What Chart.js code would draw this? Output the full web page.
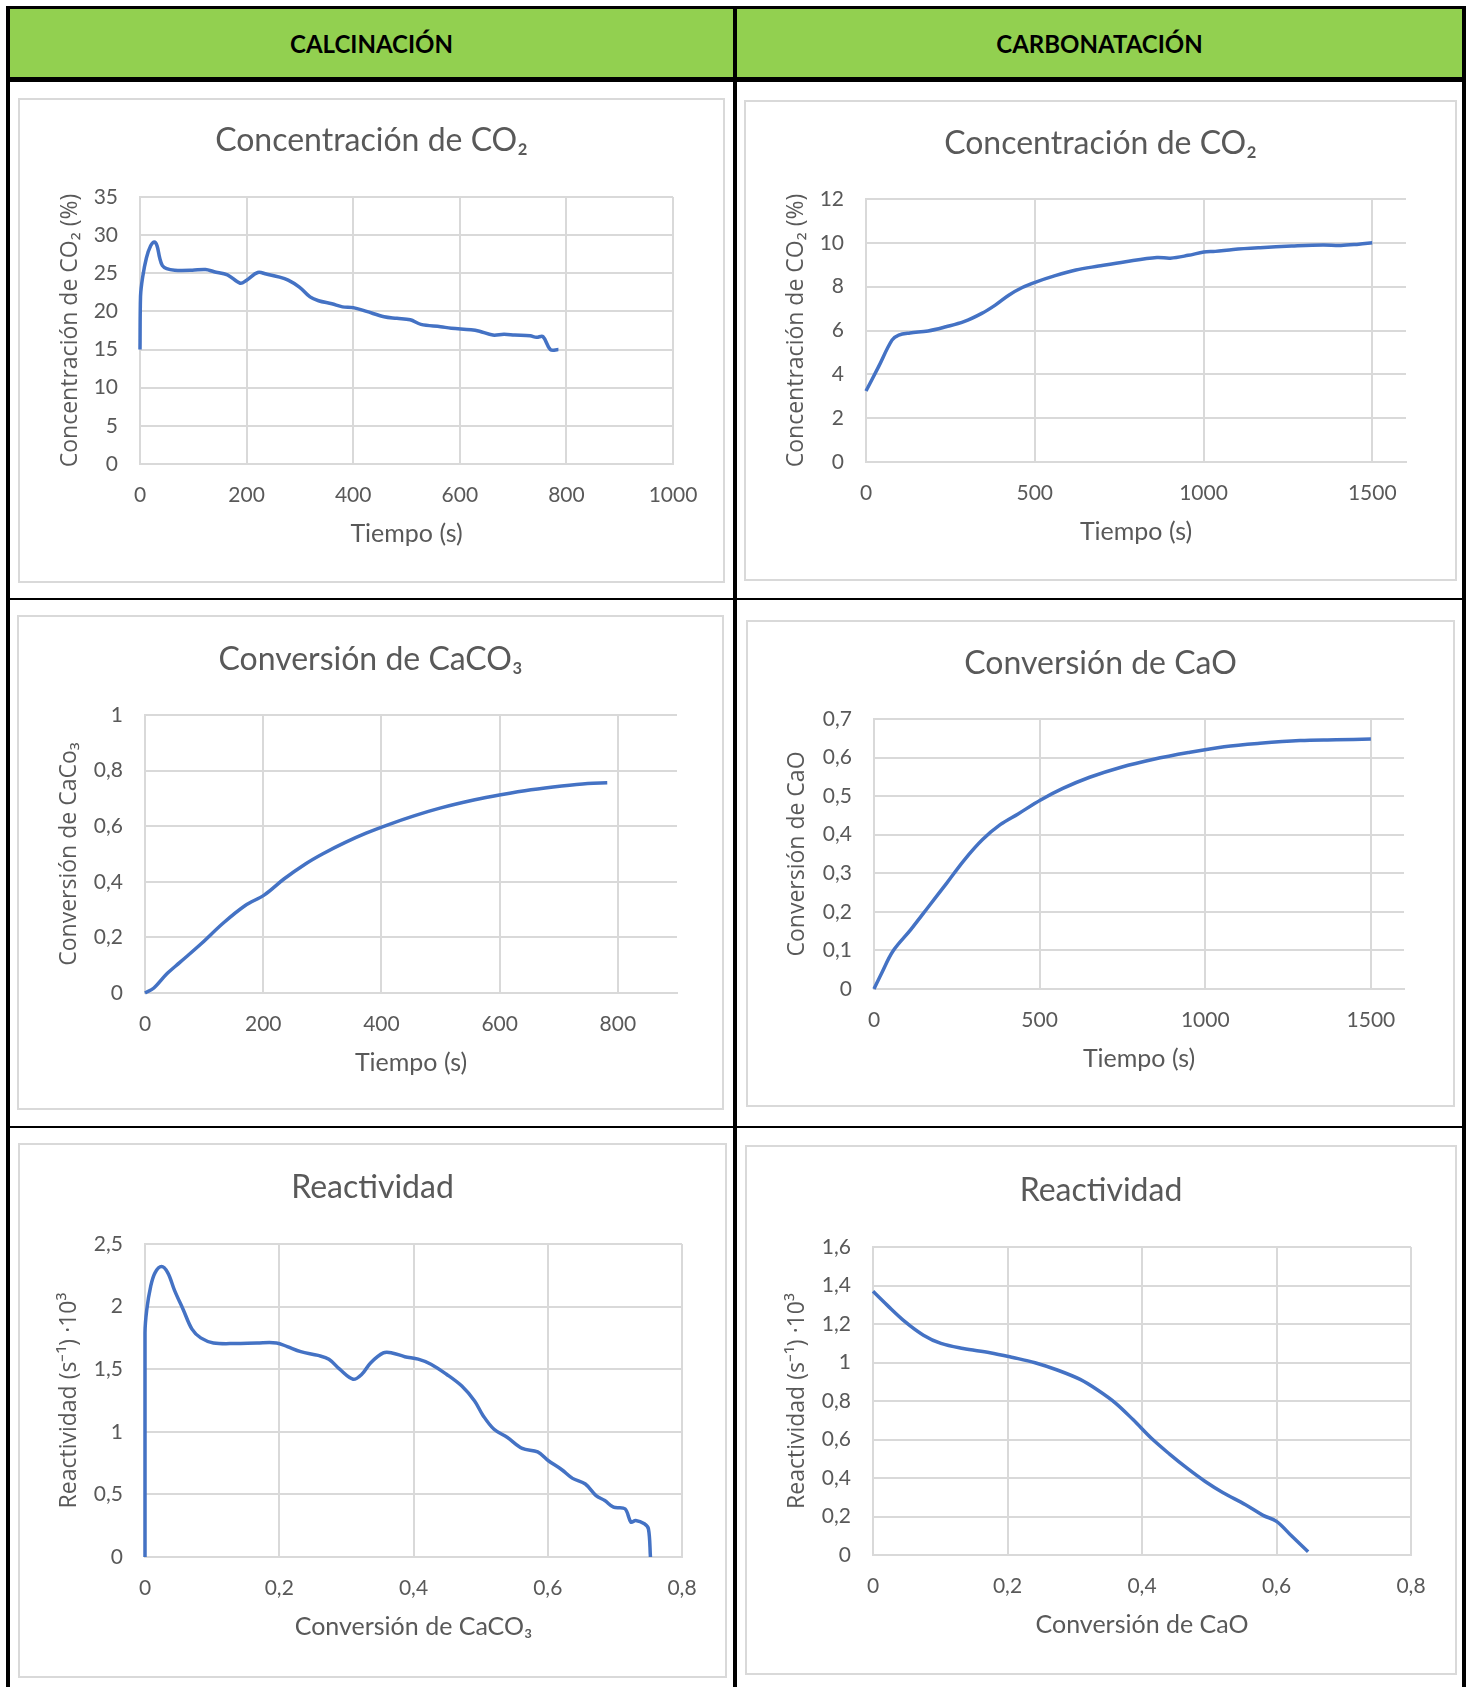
<!DOCTYPE html>
<html lang="es">
<head>
<meta charset="utf-8">
<title>Calcinación y carbonatación</title>
<script src="https://cdn.jsdelivr.net/npm/chart.js@4.4.1/dist/chart.umd.min.js"></script>
<style>
  html, body { margin:0; padding:0; background:#fff; }
  #page { position:relative; width:1466px; height:1687px; overflow:hidden; background:#fff; }
  .rule { position:absolute; background:#000; }
  .head { position:absolute; background:#92D050; display:flex; align-items:center; justify-content:center;
          font-family:Lato, sans-serif; font-weight:700; font-size:24px; color:#000; }
  .box { position:absolute; }
  .box canvas { position:absolute; left:0; top:0; }
  .box .frame { position:absolute; left:0; top:0; right:0; bottom:0; border:2px solid #d9d9d9; pointer-events:none; }
</style>
</head>
<body>
<div id="page">
  <div class="head" style="left:10px;top:9px;width:723px;height:68px;">CALCINACIÓN</div>
  <div class="head" style="left:737px;top:9px;width:725px;height:68px;">CARBONATACIÓN</div>
  <div class="rule" style="left:6px;top:6px;width:1460px;height:3px;"></div>
  <div class="rule" style="left:6px;top:77px;width:1460px;height:5px;"></div>
  <div class="rule" style="left:6px;top:598px;width:1460px;height:2px;"></div>
  <div class="rule" style="left:6px;top:1126px;width:1460px;height:2px;"></div>
  <div class="rule" style="left:6px;top:6px;width:4px;height:1681px;"></div>
  <div class="rule" style="left:733px;top:6px;width:4px;height:1681px;"></div>
  <div class="rule" style="left:1462px;top:6px;width:4px;height:1681px;"></div>
</div>
<script>
// ---------- DATA ----------
// Calcinación: concentración de CO2 (%) vs tiempo (s)
const calcCo2Time = [0, 1, 5, 12, 20, 27, 32, 37, 42, 50, 65, 98, 123, 139, 164, 188, 200, 221, 237, 262, 278, 299, 319, 335, 360, 380, 400, 425, 458, 482, 507, 527, 564, 584, 621, 637, 662, 683, 703, 732, 744, 756, 770, 785];
const calcCo2Conc = [15, 22, 24.5, 27, 28.6, 29.1, 28.6, 27, 26, 25.6, 25.4, 25.4, 25.5, 25.2, 24.8, 23.7, 24.1, 25.1, 24.9, 24.5, 24.1, 23.2, 21.9, 21.4, 21.0, 20.6, 20.5, 20.0, 19.3, 19.1, 18.9, 18.3, 18.0, 17.8, 17.6, 17.4, 16.9, 17.0, 16.9, 16.8, 16.6, 16.7, 15.0, 15.0];
const calcCo2XTicks = [0, 200, 400, 600, 800, 1000];
const calcCo2YTicks = [0, 5, 10, 15, 20, 25, 30, 35];

// Carbonatación: concentración de CO2 (%) vs tiempo (s)
const carbCo2Time = [0, 37, 77, 97, 130, 184, 237, 290, 343, 383, 423, 463, 503, 556, 622, 689, 769, 862, 902, 955, 1001, 1035, 1088, 1168, 1261, 1354, 1407, 1460, 1500];
const carbCo2Conc = [3.24, 4.34, 5.56, 5.79, 5.89, 5.98, 6.17, 6.40, 6.78, 7.16, 7.61, 7.96, 8.21, 8.48, 8.76, 8.94, 9.14, 9.33, 9.30, 9.43, 9.58, 9.61, 9.70, 9.78, 9.85, 9.90, 9.88, 9.94, 10.0];
const carbCo2XTicks = [0, 500, 1000, 1500];
const carbCo2XRange = [0, 1600];
const carbCo2YTicks = [0, 2, 4, 6, 8, 10, 12];

// Calcinación: conversión de CaCO3 vs tiempo (s)
const calcConvTime = [0, 15, 37, 59, 95, 132, 169, 202, 235, 272, 301, 338, 374, 411, 455, 499, 558, 602, 653, 705, 749, 782];
const calcConv = [0, 0.018, 0.069, 0.110, 0.177, 0.251, 0.314, 0.353, 0.410, 0.465, 0.501, 0.541, 0.575, 0.605, 0.637, 0.665, 0.695, 0.713, 0.731, 0.745, 0.754, 0.756];
const calcConvXTicks = [0, 200, 400, 600, 800];
const calcConvXRange = [0, 900];
const calcConvYTicks = [0, 0.2, 0.4, 0.6, 0.8, 1];

// Carbonatación: conversión de CaO vs tiempo (s)
const carbConvTime = [0, 23, 57, 111, 165, 219, 273, 327, 381, 435, 503, 570, 651, 746, 841, 949, 1057, 1165, 1286, 1395, 1500];
const carbConv = [0, 0.041, 0.098, 0.154, 0.214, 0.274, 0.335, 0.387, 0.426, 0.454, 0.490, 0.520, 0.549, 0.575, 0.595, 0.613, 0.628, 0.637, 0.644, 0.646, 0.648];
const carbConvXTicks = [0, 500, 1000, 1500];
const carbConvXRange = [0, 1600];
const carbConvYTicks = [0, 0.1, 0.2, 0.3, 0.4, 0.5, 0.6, 0.7];

// Calcinación: reactividad (s^-1 ·10^3) vs conversión de CaCO3
const calcReactConv = [0, 0, 0.0026, 0.0084, 0.0149, 0.0246, 0.034, 0.044, 0.057, 0.070, 0.083, 0.102, 0.135, 0.167, 0.196, 0.212, 0.232, 0.258, 0.274, 0.290, 0.310, 0.323, 0.336, 0.355, 0.368, 0.387, 0.407, 0.426, 0.449, 0.472, 0.491, 0.504, 0.520, 0.540, 0.562, 0.585, 0.601, 0.621, 0.637, 0.656, 0.672, 0.685, 0.698, 0.715, 0.724, 0.731, 0.744, 0.750, 0.753];
const calcReact = [0, 1.79, 1.975, 2.16, 2.27, 2.32, 2.27, 2.13, 1.975, 1.82, 1.75, 1.71, 1.705, 1.71, 1.71, 1.68, 1.64, 1.61, 1.58, 1.50, 1.42, 1.46, 1.55, 1.63, 1.63, 1.60, 1.58, 1.54, 1.46, 1.365, 1.246, 1.127, 1.02, 0.954, 0.867, 0.840, 0.769, 0.697, 0.628, 0.583, 0.490, 0.451, 0.398, 0.385, 0.278, 0.292, 0.265, 0.225, 0];
const calcReactXTicks = [0, 0.2, 0.4, 0.6, 0.8];
const calcReactYTicks = [0, 0.5, 1, 1.5, 2, 2.5];

// Carbonatación: reactividad (s^-1 ·10^3) vs conversión de CaO
const carbReactConv = [0, 0.021, 0.048, 0.075, 0.101, 0.134, 0.174, 0.208, 0.241, 0.274, 0.308, 0.334, 0.361, 0.387, 0.414, 0.441, 0.467, 0.494, 0.520, 0.554, 0.580, 0.600, 0.623, 0.647];
const carbReact = [1.370, 1.298, 1.211, 1.142, 1.099, 1.073, 1.051, 1.026, 0.999, 0.961, 0.912, 0.857, 0.788, 0.702, 0.606, 0.524, 0.451, 0.382, 0.325, 0.261, 0.206, 0.175, 0.097, 0.017];
const carbReactXTicks = [0, 0.2, 0.4, 0.6, 0.8];
const carbReactYTicks = [0, 0.2, 0.4, 0.6, 0.8, 1, 1.2, 1.4, 1.6];

// ---------- LAYOUT (box: x,y,w,h ; plot: left,top,right,bottom relative to box) ----------
const LAYOUT = {
  calcCo2:   { box: [18, 98, 707, 485],   plot: [122, 99, 655, 366],  titleCY: 43,   yTitleOff: 70 },
  carbCo2:   { box: [744, 100, 713, 481], plot: [122, 99, 662, 362],  titleCY: 44,   yTitleOff: 70 },
  calcConv:  { box: [17, 615, 707, 495],  plot: [128, 100, 660, 378], titleCY: 45,   yTitleOff: 76 },
  carbConv:  { box: [746, 620, 709, 487], plot: [128, 99, 658, 369],  titleCY: 44,   yTitleOff: 77 },
  calcReact: { box: [18, 1143, 709, 535], plot: [127, 101, 664, 414], titleCY: 45,   yTitleOff: 76 },
  carbReact: { box: [745, 1145, 712, 530],plot: [128, 102, 666, 410], titleCY: 46,   yTitleOff: 76 }
};
const TITLE_FONT = 32, AXIS_TITLE_FONT = 25, TICK_FONT = 21, YTITLE_FONT = 23;
const TEXT = '#595959', GRID = '#d9d9d9', LINE = '#4472C4';

function fmt(v) { return String(Math.round(v * 1000) / 1000).replace('.', ','); }

function build(key, spec) {
  const L = LAYOUT[key];
  const [bx, by, bw, bh] = L.box;
  const [pl, pt, pr, pb] = L.plot;
  const wrap = document.createElement('div');
  wrap.className = 'box';
  Object.assign(wrap.style, { left: bx + 'px', top: by + 'px', width: bw + 'px', height: bh + 'px' });
  const cv = document.createElement('canvas');
  cv.width = bw; cv.height = bh;
  cv.style.width = bw + 'px'; cv.style.height = bh + 'px';
  const fr = document.createElement('div');
  fr.className = 'frame';
  wrap.append(cv, fr);
  document.getElementById('page').append(wrap);

  new Chart(cv, {
    type: 'scatter',
    data: {
      datasets: [{
        data: spec.xs.map((x, i) => ({ x: x, y: spec.ys[i] })),
        showLine: true, borderColor: LINE, borderWidth: 3.5, pointRadius: 0,
        tension: 0.35, fill: false, clip: 6
      }]
    },
    options: {
      responsive: false, animation: false, devicePixelRatio: 1,
      layout: { padding: 0 },
      plugins: {
        legend: { display: false }, tooltip: { enabled: false },
        title: {
          display: true, text: spec.title, color: TEXT,
          font: { family: 'Lato', size: TITLE_FONT, weight: 'normal', lineHeight: 1 },
          padding: { top: L.titleCY - TITLE_FONT / 2, bottom: pt - L.titleCY - TITLE_FONT / 2 }
        }
      },
      scales: {
        x: {
          type: 'linear', position: 'bottom', min: spec.xRange[0], max: spec.xRange[1],
          afterBuildTicks: s => { s.ticks = spec.xTicks.map(v => ({ value: v })); },
          afterFit: s => { s.height = bh - pb; },
          grid: { color: GRID, lineWidth: 2, drawTicks: false },
          border: { color: GRID, width: 2 },
          ticks: { color: TEXT, font: { family: 'Lato', size: TICK_FONT, lineHeight: 1 }, padding: 31 - TICK_FONT / 2,
                   callback: v => fmt(v), maxRotation: 0, autoSkip: false },
          title: { display: true, text: spec.xTitle, color: TEXT,
                   font: { family: 'Lato', size: AXIS_TITLE_FONT, lineHeight: 1 },
                   padding: { top: 0, bottom: bh - pb - 70 - AXIS_TITLE_FONT / 2 } }
        },
        y: {
          type: 'linear', position: 'left', min: spec.yTicks[0], max: spec.yTicks[spec.yTicks.length - 1],
          afterBuildTicks: s => { s.ticks = spec.yTicks.map(v => ({ value: v })); },
          afterFit: s => { s.width = pl; },
          grid: { color: GRID, lineWidth: 2, drawTicks: false },
          border: { color: GRID, width: 2 },
          ticks: { color: TEXT, font: { family: 'Lato', size: TICK_FONT, lineHeight: 1 }, padding: 22,
                   callback: v => fmt(v), autoSkip: false },
          title: { display: true, text: spec.yTitle, color: TEXT,
                   font: { family: 'Open Sans', size: YTITLE_FONT, lineHeight: 1 },
                   padding: { top: pl - L.yTitleOff - YTITLE_FONT / 2, bottom: 0 } }
        },
        yR: {
          type: 'linear', position: 'right', display: true,
          grid: { display: false }, border: { display: false }, ticks: { display: false },
          afterFit: s => { s.width = bw - pr; }
        }
      }
    }
  });
}

build('calcCo2', { xs: calcCo2Time, ys: calcCo2Conc, xTicks: calcCo2XTicks, xRange: [0, 1000], yTicks: calcCo2YTicks,
  title: 'Concentración de CO₂', xTitle: 'Tiempo (s)', yTitle: 'Concentración de CO₂ (%)' });
build('carbCo2', { xs: carbCo2Time, ys: carbCo2Conc, xTicks: carbCo2XTicks, xRange: carbCo2XRange, yTicks: carbCo2YTicks,
  title: 'Concentración de CO₂', xTitle: 'Tiempo (s)', yTitle: 'Concentración de CO₂ (%)' });
build('calcConv', { xs: calcConvTime, ys: calcConv, xTicks: calcConvXTicks, xRange: calcConvXRange, yTicks: calcConvYTicks,
  title: 'Conversión de CaCO₃', xTitle: 'Tiempo (s)', yTitle: 'Conversión de CaCo₃' });
build('carbConv', { xs: carbConvTime, ys: carbConv, xTicks: carbConvXTicks, xRange: carbConvXRange, yTicks: carbConvYTicks,
  title: 'Conversión de CaO', xTitle: 'Tiempo (s)', yTitle: 'Conversión de CaO' });
build('calcReact', { xs: calcReactConv, ys: calcReact, xTicks: calcReactXTicks, xRange: [0, 0.8], yTicks: calcReactYTicks,
  title: 'Reactividad', xTitle: 'Conversión de CaCO₃', yTitle: 'Reactividad (s⁻¹) ·10³' });
build('carbReact', { xs: carbReactConv, ys: carbReact, xTicks: carbReactXTicks, xRange: [0, 0.8], yTicks: carbReactYTicks,
  title: 'Reactividad', xTitle: 'Conversión de CaO', yTitle: 'Reactividad (s⁻¹) ·10³' });
</script>
</body>
</html>
